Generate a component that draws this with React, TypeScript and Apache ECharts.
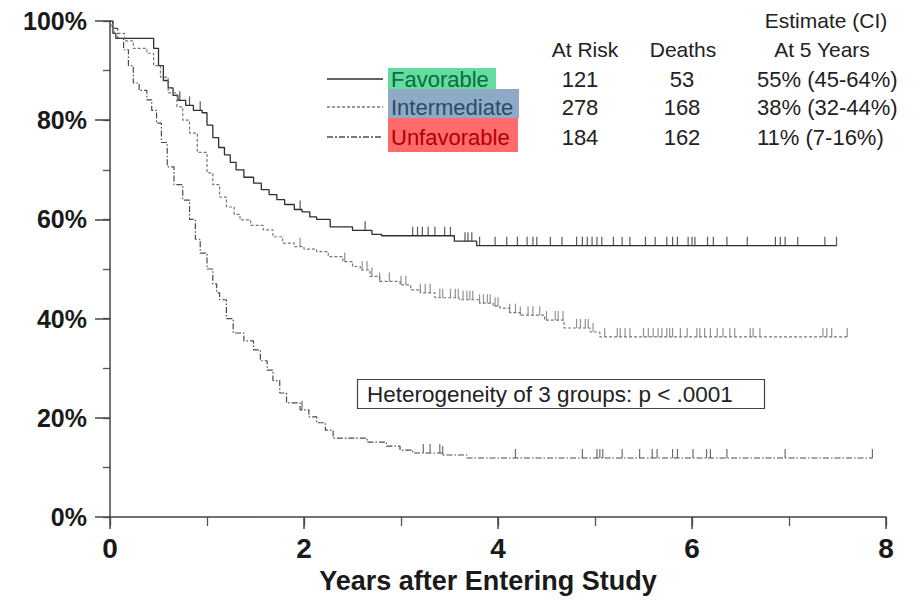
import React, { useEffect, useRef } from "react";
import * as echarts from "echarts";

// ---- data ----
const groups = ["Favorable", "Intermediate", "Unfavorable"];
const atRisk = [121, 278, 184];
const deaths = [53, 168, 162];
const estimates = ["55% (45-64%)", "38% (32-44%)", "11% (7-16%)"];
const tableHeaders = ["At Risk", "Deaths", "At 5 Years"];
const estimateHeader = "Estimate (CI)";
const xTitle = "Years after Entering Study";
const pValueText = "Heterogeneity of 3 groups: p < .0001";

const favorableCurve: [number, number][] = [
  [0, 100], [0.03, 97.5], [0.06, 96.5], [0.41, 96.5], [0.45, 94.5], [0.5, 91], [0.55, 88],
  [0.6, 86.5], [0.65, 85], [0.7, 84], [0.78, 83], [0.86, 82], [0.95, 81.5], [1.0, 79],
  [1.06, 76.5], [1.12, 74.5], [1.18, 73], [1.24, 71.5], [1.3, 70], [1.38, 68.5], [1.48, 67.3],
  [1.56, 66], [1.64, 65], [1.72, 64], [1.8, 63], [1.9, 62], [1.98, 61.5], [2.06, 60.5],
  [2.13, 60], [2.27, 58.5], [2.5, 57.8], [2.7, 57], [2.8, 56.7], [3.55, 55.6], [3.78, 54.7],
  [7.49, 54.7],
];
const intermediateCurve: [number, number][] = [
  [0, 100], [0.02, 98.5], [0.05, 97.5], [0.15, 96], [0.24, 94.5], [0.38, 93.5], [0.45, 91],
  [0.52, 88.7], [0.6, 85.5], [0.69, 82.7], [0.75, 80], [0.82, 77.4], [0.9, 73.5], [1.0, 69.4],
  [1.06, 67], [1.13, 64.5], [1.2, 62.5], [1.28, 61], [1.34, 59.9], [1.45, 58.8], [1.58, 57.9],
  [1.68, 56.5], [1.78, 55.2], [1.9, 54.5], [2.0, 54], [2.13, 53.5], [2.25, 52.5], [2.4, 51.5],
  [2.5, 50.5], [2.58, 49.8], [2.68, 48.5], [2.78, 47.5], [2.99, 46.8], [3.1, 45.8], [3.2, 45.2],
  [3.35, 44.2], [3.6, 43.8], [3.81, 43.1], [3.95, 42.5], [4.02, 42.1], [4.12, 41.2], [4.23, 40.7],
  [4.48, 39.7], [4.68, 38.1], [4.95, 37.3], [5.05, 36.3], [7.6, 36.3],
];
const unfavorableCurve: [number, number][] = [
  [0, 100], [0.03, 98.5], [0.08, 96.5], [0.14, 94.2], [0.19, 91], [0.24, 87.5], [0.3, 86],
  [0.38, 84.1], [0.43, 82], [0.48, 79.4], [0.53, 75.5], [0.59, 70.6], [0.66, 67], [0.75, 63.9],
  [0.82, 60], [0.88, 56], [0.93, 53.2], [1.0, 50], [1.06, 47], [1.1, 45.2], [1.13, 43.8],
  [1.2, 40], [1.27, 37.1], [1.38, 35.5], [1.48, 33.7], [1.55, 31.5], [1.62, 29.6], [1.68, 27.5],
  [1.75, 25], [1.82, 23], [1.96, 21.6], [2.05, 20.2], [2.13, 19], [2.22, 17.5], [2.3, 15.9],
  [2.65, 15.1], [2.85, 14.3], [2.99, 13.5], [3.12, 12.9], [3.43, 12.5], [3.68, 11.9], [7.86, 11.9],
];

const favorableCensored = [
  0.72, 0.82, 0.93, 1.96, 2.63, 3.12, 3.17, 3.22, 3.28, 3.35, 3.45, 3.51, 3.66, 3.69, 3.73, 3.81,
  3.97, 4.09, 4.2, 4.3, 4.36, 4.4, 4.54, 4.66, 4.81, 4.87, 4.92, 4.97, 5.02, 5.07, 5.19, 5.28,
  5.36, 5.52, 5.62, 5.74, 5.8, 5.85, 5.96, 6.0, 6.03, 6.16, 6.22, 6.36, 6.57, 6.86, 6.91, 6.96,
  7.09, 7.37, 7.49,
];
const intermediateCensored = [
  1.96, 2.42, 2.6, 2.65, 2.7, 2.78, 2.88, 3.0, 3.05, 3.2, 3.25, 3.3, 3.4, 3.43, 3.51, 3.56, 3.59,
  3.64, 3.68, 3.71, 3.74, 3.81, 3.85, 3.89, 3.92, 3.97, 4.0, 4.12, 4.18, 4.23, 4.31, 4.36, 4.43,
  4.5, 4.59, 4.62, 4.67, 4.81, 4.85, 4.9, 4.93, 4.98, 5.1, 5.23, 5.26, 5.31, 5.36, 5.5, 5.55,
  5.6, 5.65, 5.69, 5.74, 5.77, 5.8, 5.88, 5.95, 6.05, 6.08, 6.13, 6.19, 6.26, 6.32, 6.39, 6.44,
  6.6, 6.63, 6.7, 7.35, 7.39, 7.44, 7.6,
];
const unfavorableCensored = [
  1.98, 3.23, 3.3, 3.4, 3.43, 4.18, 4.87, 5.02, 5.05, 5.08, 5.28, 5.46, 5.59, 5.64, 5.8, 5.85,
  6.01, 6.15, 6.19, 6.36, 6.96, 7.86,
];

// ---- styles ----
const FONT = "'Liberation Sans', Arial, Helvetica, sans-serif";
const lineColors = ["#2f2f2f", "#777777", "#4a4a4a"];
const lineDashes: any[] = ["solid", [3, 2], [6, 2, 1.5, 2]];
const boxColors = ["#62dc9f", "#8eaac4", "#ff6b6b"];
const labelColors = ["#0e6a3c", "#2c4a6c", "#b00000"];

function survivalAt(curve: [number, number][], t: number): number {
  let v = curve[0][1];
  for (const [x, y] of curve) {
    if (x <= t) v = y;
    else break;
  }
  return v;
}

export default function App() {
  const ref = useRef<HTMLDivElement>(null);

  useEffect(() => {
    if (!ref.current) return;
    const chart = echarts.init(ref.current, null, { renderer: "svg" });
    const curves = [favorableCurve, intermediateCurve, unfavorableCurve];
    const censors = [favorableCensored, intermediateCensored, unfavorableCensored];

    const lineSeries = curves.map((c, i) => ({
      type: "line",
      name: groups[i],
      data: c,
      step: "end",
      showSymbol: false,
      symbol: "none",
      xAxisIndex: 0,
      yAxisIndex: 0,
      lineStyle: { color: lineColors[i], width: i === 0 ? 1.3 : 1.2, type: lineDashes[i] },
      silent: true,
      z: 3,
    }));
    const censorSeries = censors.map((cs, i) => ({
      type: "scatter",
      name: groups[i] + " censored",
      data: cs.map((t) => [t, survivalAt(curves[i], t)]),
      symbol: "rect",
      symbolSize: [1.2, 9],
      symbolOffset: [0, -4.5],
      xAxisIndex: 0,
      yAxisIndex: 0,
      itemStyle: { color: lineColors[i] },
      silent: true,
      z: 4,
    }));

    const rowY = [79, 107, 137];
    const graphics: any[] = [];
    // legend
    groups.forEach((g, i) => {
      graphics.push({
        type: "line",
        shape: { x1: 327, y1: rowY[i], x2: 383, y2: rowY[i] },
        style: {
          stroke: lineColors[i],
          lineWidth: 1.6,
          lineDash: i === 0 ? null : i === 1 ? [3, 2] : [6, 2, 2, 2],
        },
      });
    });
    const boxes = [
      [388, 68, 108, 21],
      [388, 89, 131, 29],
      [388, 118, 130, 34],
    ];
    boxes.forEach((b, i) => {
      graphics.push({
        type: "rect",
        shape: { x: b[0], y: b[1], width: b[2], height: b[3] },
        style: { fill: boxColors[i] },
        z: 1,
      });
    });
    groups.forEach((g, i) => {
      graphics.push({
        type: "text",
        x: 391,
        y: rowY[i],
        style: {
          text: g,
          font: `22px ${FONT}`,
          fill: labelColors[i],
          verticalAlign: "middle",
        },
        z: 2,
      });
    });
    // table headers
    const headerX = [585, 683, 822];
    tableHeaders.forEach((h, i) => {
      graphics.push({
        type: "text",
        x: headerX[i],
        y: 49,
        style: { text: h, font: `21px ${FONT}`, fill: "#222", align: "center", verticalAlign: "middle" },
      });
    });
    graphics.push({
      type: "text",
      x: 826,
      y: 20,
      style: { text: estimateHeader, font: `21px ${FONT}`, fill: "#222", align: "center", verticalAlign: "middle" },
    });
    groups.forEach((g, i) => {
      graphics.push({
        type: "text",
        x: 580,
        y: rowY[i],
        style: { text: String(atRisk[i]), font: `22px ${FONT}`, fill: "#222", align: "center", verticalAlign: "middle" },
      });
      graphics.push({
        type: "text",
        x: 682,
        y: rowY[i],
        style: { text: String(deaths[i]), font: `22px ${FONT}`, fill: "#222", align: "center", verticalAlign: "middle" },
      });
      graphics.push({
        type: "text",
        x: 757,
        y: rowY[i],
        style: { text: estimates[i], font: `22px ${FONT}`, fill: "#222", align: "left", verticalAlign: "middle" },
      });
    });
    // p-value box
    graphics.push({
      type: "rect",
      shape: { x: 357.5, y: 379.5, width: 407, height: 29 },
      style: { fill: "#fff", stroke: "#444", lineWidth: 1.2 },
      z: 5,
    });
    graphics.push({
      type: "text",
      x: 367,
      y: 394,
      style: { text: pValueText, font: `22.5px ${FONT}`, fill: "#222", align: "left", verticalAlign: "middle" },
      z: 6,
    });

    chart.setOption({
      animation: false,
      backgroundColor: "#ffffff",
      grid: { left: 110, right: 29, top: 21, bottom: 87, containLabel: false },
      xAxis: [
        {
          type: "value",
          min: 0,
          max: 8,
          interval: 2,
          position: "bottom",
          name: xTitle,
          nameLocation: "middle",
          nameGap: 50,
          nameTextStyle: {
            fontFamily: FONT,
            fontSize: 27,
            fontWeight: "bold",
            color: "#1a1a1a",
            padding: [0, 20, 0, 0],
          },
          axisLine: { show: true, lineStyle: { color: "#444", width: 1.5 } },
          axisTick: { show: true, length: 12, lineStyle: { color: "#444", width: 1.5 } },
          axisLabel: {
            fontFamily: FONT,
            fontSize: 28,
            fontWeight: "bold",
            color: "#1a1a1a",
            margin: 17,
          },
          splitLine: { show: false },
          z: 2,
        },
        {
          type: "value",
          min: 0,
          max: 8,
          interval: 1,
          position: "bottom",
          offset: 0,
          axisLine: { show: false },
          axisTick: { show: true, length: 9, lineStyle: { color: "#555", width: 1.3 } },
          axisLabel: { show: false },
          splitLine: { show: false },
          z: 1,
        },
      ],
      yAxis: [
        {
          type: "value",
          min: 0,
          max: 100,
          interval: 20,
          position: "left",
          axisLine: { show: true, lineStyle: { color: "#444", width: 1.5 } },
          axisTick: { show: true, length: 15, lineStyle: { color: "#444", width: 1.5 } },
          axisLabel: {
            formatter: "{value}%",
            fontFamily: FONT,
            fontSize: 25,
            fontWeight: "bold",
            color: "#1a1a1a",
            margin: 23,
          },
          splitLine: { show: false },
          z: 2,
        },
        {
          type: "value",
          min: 0,
          max: 100,
          interval: 10,
          position: "left",
          offset: 0,
          axisLine: { show: false },
          axisTick: { show: true, length: 7, lineStyle: { color: "#555", width: 1.3 } },
          axisLabel: { show: false },
          splitLine: { show: false },
          z: 1,
        },
      ],
      series: [...lineSeries, ...censorSeries],
      graphic: graphics,
    } as any);

    return () => chart.dispose();
  }, []);

  return (
    <div
      ref={ref}
      style={{ position: "fixed", left: 0, top: 0, width: 915, height: 604, background: "#fff" }}
    />
  );
}
